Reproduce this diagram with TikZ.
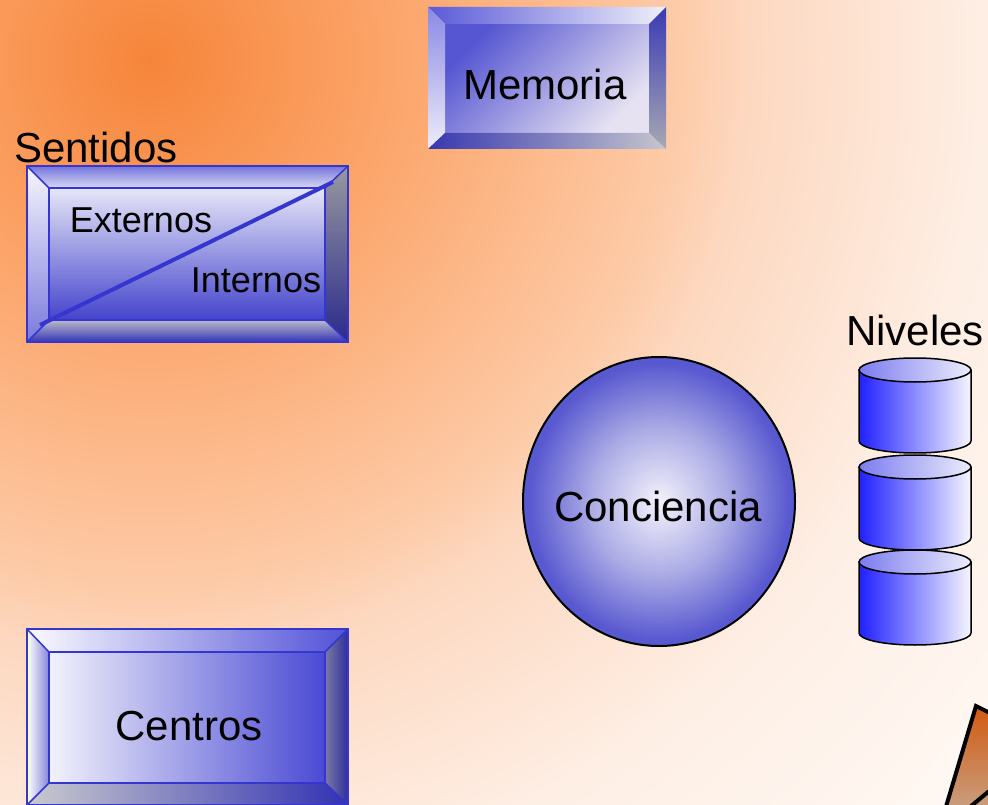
\documentclass[tikz,border=0pt]{standalone}
\usepackage{fontspec}
\setmainfont{Liberation Sans}
\usepackage{tikz}
\definecolor{bgA}{HTML}{F6853A}
\definecolor{bgB}{HTML}{FCA66C}
\definecolor{bgC}{HTML}{FDCBA8}
\definecolor{bgD}{HTML}{FDD8C0}
\definecolor{bgE}{HTML}{FEEFE5}
\definecolor{bgF}{HTML}{FFFAF6}
\definecolor{boxblue}{HTML}{3535D0}
\definecolor{memFace}{HTML}{5656D2}
\definecolor{memFaceEnd}{HTML}{E6E2F2}
\definecolor{memTopL}{HTML}{5A5AD8}
\definecolor{memTopR}{HTML}{EFEFFA}
\definecolor{memLeftT}{HTML}{8A8AE4}
\definecolor{memLeftB}{HTML}{EDEDFA}
\definecolor{memRightT}{HTML}{3A3AB4}
\definecolor{memRightB}{HTML}{A8A8B4}
\definecolor{memBotL}{HTML}{3838B0}
\definecolor{memBotR}{HTML}{C6C6CE}
\definecolor{senFaceT}{HTML}{E6E6F8}
\definecolor{senFaceB}{HTML}{4444CC}
\definecolor{senTopT}{HTML}{7474DC}
\definecolor{senTopB}{HTML}{D8D8F4}
\definecolor{senLeftT}{HTML}{F6F6FE}
\definecolor{senLeftB}{HTML}{7A7ADC}
\definecolor{senRightT}{HTML}{9898A0}
\definecolor{senRightB}{HTML}{2A2A8C}
\definecolor{senBotT}{HTML}{BABACA}
\definecolor{senBotB}{HTML}{3434B8}
\definecolor{cenFaceL}{HTML}{F2F2FC}
\definecolor{cenFaceR}{HTML}{4A4AD4}
\definecolor{cenTopL}{HTML}{FBFBFF}
\definecolor{cenTopR}{HTML}{5252D8}
\definecolor{cenLeftR}{HTML}{8484DA}
\definecolor{cenRightL}{HTML}{7A7AA4}
\definecolor{cenRightR}{HTML}{2E2E9C}
\definecolor{cenBotL}{HTML}{CACACE}
\definecolor{cenBotR}{HTML}{3232B4}
\definecolor{concA}{HTML}{F4F2FB}
\definecolor{concB}{HTML}{ACACE6}
\definecolor{concC}{HTML}{5858D0}
\definecolor{cylL}{HTML}{2020FF}
\definecolor{cylR}{HTML}{F6F6FF}
\definecolor{cylTopL}{HTML}{7C7CF0}
\definecolor{cylTopR}{HTML}{ECECFC}
\definecolor{pencilA}{HTML}{D05A10}
\definecolor{pencilB}{HTML}{C9A68C}
\pgfdeclareradialshading{bgglow}{\pgfpoint{0bp}{0bp}}{color(0bp)=(bgA); color(5.4bp)=(bgB); color(11.5bp)=(bgC); color(13bp)=(bgD); color(18.3bp)=(bgE); color(25bp)=(bgF); color(50bp)=(bgF)}
\pgfdeclareradialshading{concglow}{\pgfpoint{0bp}{0bp}}{color(0bp)=(concA); color(12.5bp)=(concB); color(24bp)=(concC); color(50bp)=(concC)}
\tikzset{
  bigtext/.style={font=\fontsize{42}{48}\selectfont, inner sep=0pt, anchor=base},
  smalltext/.style={font=\fontsize{36}{42}\selectfont, inner sep=0pt, anchor=base},
  boxline/.style={draw=boxblue, line width=1.5pt}
}

\begin{document}
\begin{tikzpicture}[x=1pt,y=-1pt]
\useasboundingbox (0,0) rectangle (988,805);
\clip (0,0) rectangle (988,805);
\shade[shading=bgglow] (150,60) circle [radius=1150];
% Memoria
\shade[top color=memFace, bottom color=memFaceEnd, shading angle=45] (445,24) rectangle (649,133);
\shade[left color=memTopL, right color=memTopR] (428,7) -- (666,7) -- (649,24) -- (445,24) -- cycle;
\shade[top color=memLeftT, bottom color=memLeftB] (428,7) -- (445,24) -- (445,133) -- (428,149) -- cycle;
\shade[top color=memRightT, bottom color=memRightB] (666,7) -- (649,24) -- (649,133) -- (666,149) -- cycle;
\shade[left color=memBotL, right color=memBotR] (428,149) -- (445,133) -- (649,133) -- (666,149) -- cycle;
\node[bigtext] (memoria) at (545,100) {Memoria};
% Sentidos
\shade[top color=senFaceT, bottom color=senFaceB] (49,188) rectangle (325,320);
\shade[top color=senTopT, bottom color=senTopB] (27,166) -- (348,166) -- (325,188) -- (49,188) -- cycle;
\shade[top color=senLeftT, bottom color=senLeftB] (27,166) -- (49,188) -- (49,320) -- (27,342) -- cycle;
\shade[top color=senRightT, bottom color=senRightB] (348,166) -- (325,188) -- (325,320) -- (348,342) -- cycle;
\shade[top color=senBotT, bottom color=senBotB] (27,342) -- (49,320) -- (325,320) -- (348,342) -- cycle;
\draw[boxline] (27,166) rectangle (348,342) (49,188) rectangle (325,320);
\draw[boxline] (27,166) -- (49,188) (348,166) -- (325,188) (27,342) -- (49,320) (348,342) -- (325,320);
\draw[boxblue, line width=4pt] (40,325) -- (333,182);
\node[bigtext] (sentidos) at (96,163) {Sentidos};
\node[smalltext] (externos) at (141,233) {Externos};
\node[smalltext] (internos) at (256,292) {Internos};
% Centros
\shade[left color=cenFaceL, right color=cenFaceR] (49,652) rectangle (325,783);
\shade[left color=cenTopL, right color=cenTopR] (27,629) -- (348,629) -- (325,652) -- (49,652) -- cycle;
\shade[left color=white, right color=cenLeftR] (27,629) -- (49,652) -- (49,783) -- (27,805) -- cycle;
\shade[left color=cenRightL, right color=cenRightR] (348,629) -- (325,652) -- (325,783) -- (348,805) -- cycle;
\shade[left color=cenBotL, right color=cenBotR] (27,805) -- (49,783) -- (325,783) -- (348,805) -- cycle;
\draw[boxline] (27,629) rectangle (348,805) (49,652) rectangle (325,783);
\draw[boxline] (27,629) -- (49,652) (348,629) -- (325,652) (27,805) -- (49,783) (348,805) -- (325,783);
\node[bigtext] (centros) at (189,740) {Centros};
% Conciencia
\shadedraw[shading=concglow, line width=2pt] (659,501.5) ellipse [x radius=136, y radius=144.5];
\node[bigtext] (conciencia) at (658,521) {Conciencia};
% Niveles
\foreach \t in {370,467,562} {
  \shadedraw[left color=cylL, right color=cylR, line width=1.5pt] (859,\t) -- (859,\t+71) arc [start angle=180, end angle=0, x radius=56, y radius=12] -- (971,\t) -- cycle;
  \shadedraw[left color=cylTopL, right color=cylTopR, line width=1.5pt] (915,\t) ellipse [x radius=56, y radius=12];
}
\node[bigtext] (niveles) at (915,345) {Niveles};
\shadedraw[top color=pencilA, bottom color=pencilB, line width=4pt] (976,706) -- (1000,718) -- (1000,820) -- (942,820) -- cycle;
\draw[line width=4pt] (970,807) -- (994,787);
\end{tikzpicture}
\end{document}
